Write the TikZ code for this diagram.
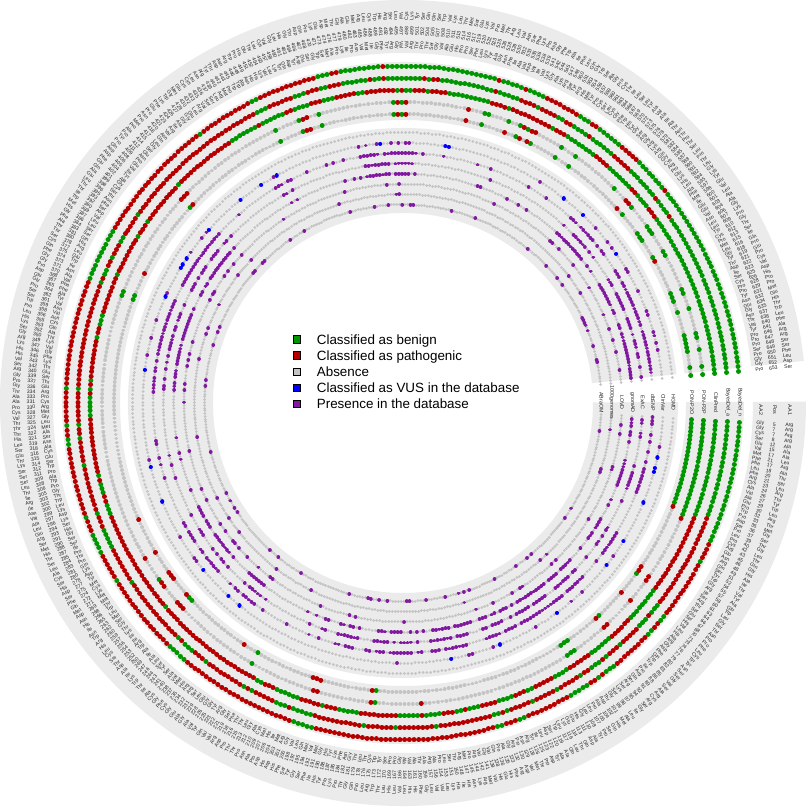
\documentclass[tikz,border=0pt]{standalone}
\usepackage{fontspec}
\setmainfont{Liberation Sans}
\definecolor{bandbg}{RGB}{235,235,235}
\definecolor{absgrey}{RGB}{196,196,196}
\definecolor{benign}{RGB}{0,150,0}
\definecolor{patho}{RGB}{182,0,0}
\definecolor{vus}{RGB}{0,0,255}
\definecolor{presence}{RGB}{128,24,160}
\definecolor{lbltext}{RGB}{35,35,35}
\tikzset{
  entrytxt/.style={inner sep=0pt, font=\fontsize{5.1}{5.1}\selectfont, text=lbltext},
  tracklbl/.style={inner sep=0pt, font=\fontsize{5.3}{5.3}\selectfont, text=lbltext, rotate=-90},
  legbox/.style={draw=black, line width=0.8pt, minimum size=7.4pt, inner sep=0pt},
  legtxt/.style={inner sep=0pt, anchor=base west, font=\fontsize{13.4}{16}\selectfont},
  bigdot/.style={line cap=round, line width=5pt},
  smalldot/.style={line cap=round, line width=3.8pt},
  dbdotstyle/.style={line cap=round, line width=3.8pt},
  dbgrey/.style={line cap=round, line width=3pt},
  vusdot/.style={line cap=round, line width=4.2pt},
}
\newcommand\bandring[2]{\fill[bandbg] (6.0:#1) arc[start angle=6.0,end angle=360.2,radius=#1] -- (0.2:#2) arc[start angle=360.2,end angle=6.0,radius=#2] -- cycle;}
% lists of dot positions
\newcommand\initlist[1]{\expandafter\gdef\csname L@#1\endcsname{}}
\newcommand\addpt[3]{\expandafter\xdef\csname L@#1\endcsname{\csname L@#1\endcsname (#2:#3) -- ++(0.01,0)}}
\newcommand\drawlist[2]{\edef\tmpdraw{\noexpand\draw[#2] \csname L@#1\endcsname;}\tmpdraw}
% pred: state -1 absent, 0 benign, 1 pathogenic
\newcommand\predpt[3]{\ifdim#3pt<-0.5pt \addpt{#1a}{\ang}{#2}\else\ifdim#3pt>0.5pt \addpt{#1r}{\ang}{#2}\else\addpt{#1g}{\ang}{#2}\fi\fi}
% db: 0 absent, 1 presence, 2 vus
\newcommand\dbpt[3]{\ifdim#3pt>1.5pt \addpt{#1v}{\ang}{#2}\else\ifdim#3pt>0.5pt \addpt{#1p}{\ang}{#2}\else\addpt{#1a}{\ang}{#2}\fi\fi}
\newcommand\firstA[1]{\ifcase#1\relax Arg\or Arg\or Arg\or Arg\or Ala\or Ala\or Ala\or Leu\fi}
\newcommand\firstP[1]{\ifcase#1\relax 5\or 7\or 7\or 8\or 12\or 15\or 17\or 21\fi}
\newcommand\firstB[1]{\ifcase#1\relax Gly\or Gly\or Cys\or Ser\or Glu\or Val\or Met\or Phe\fi}
\newcommand\lastA[1]{\ifcase#1\relax Arg\or Arg\or Ser\or Ser\or Phe\or Leu\or Asp\or Ser\fi}
\newcommand\lastP[1]{\ifcase#1\relax 646\or 647\or 648\or 649\or 650\or 651\or 652\or 653\fi}
\newcommand\lastB[1]{\ifcase#1\relax Pro\or Pro\or Pro\or Ser\or Pro\or Gly\or Gly\or Pro\fi}
\begin{document}
\begin{tikzpicture}[x=1pt,y=1pt]
\useasboundingbox (-403,-406) rectangle (406,403);
\bandring{403}{350}
\bandring{341}{283}
\bandring{275}{190}
\foreach \t in {A,B,C,D,F}{\initlist{\t a}\initlist{\t g}\initlist{\t r}}
\foreach \t in {H,V,S,E,G,L,T,R}{\initlist{\t a}\initlist{\t p}\initlist{\t v}}
\pgfmathsetseed{777}
\pgfmathdeclarerandomlist{aalist}{{Ala}{Arg}{Asn}{Asp}{Cys}{Gln}{Glu}{Gly}{His}{Ile}{Leu}{Lys}{Met}{Phe}{Pro}{Ser}{Thr}{Trp}{Tyr}{Val}{Pro}{Ser}{Ala}{Leu}{Gly}{Arg}{Thr}{Val}}
\xdef\stA{0}\xdef\stB{0}\xdef\stC{0}\xdef\stP{1}\xdef\stD{1}
\foreach \i in {0,...,439}{
  \pgfmathsetmacro\ang{-3.3-0.8002*\i}
  \pgfmathsetmacro\pp{\i<22 ? 0 : (\i<110 ? 0.6 : (\i<220 ? 0.78 : (\i<300 ? 0.72 : (\i<345 ? 0.4 : (\i<400 ? 0.32 : (\i<422 ? 0.12 : 0))))))}
  \pgfmathsetmacro\qq{\i<22 ? 1 : (\i<360 ? 0.13 : (\i<422 ? 0.3 : 0.7))}
  \pgfmathsetmacro\nA{rnd<0.55 ? \stA : (rnd<\pp ? 1 : 0)}
  \pgfmathsetmacro\nB{rnd<0.5 ? \nA : (rnd<0.5 ? \stB : (rnd<\pp ? 1 : 0))}
  \pgfmathsetmacro\nC{rnd<0.55 ? \stC : (rnd<\pp ? 1 : 0)}
  \pgfmathsetmacro\nP{\i<22 ? 1 : (rnd<0.45 ? \stP : (rnd<\qq ? 1 : 0))}
  \pgfmathsetmacro\cP{rnd<\pp ? 1 : 0}
  \pgfmathsetmacro\vD{(\nP>0.5 && (\i<22 || rnd<0.92)) ? \cP : -1}
  \pgfmathsetmacro\vF{(\nP>0.5 && (\i<22 || rnd<0.9)) ? ((\i<22 || rnd<0.88) ? \cP : 1-\cP) : -1}
  \pgfmathsetmacro\nD{rnd<0.82 ? \stD : (rnd<0.55 ? 1 : 0)}
  \pgfmathsetmacro\vS{rnd<(0.15+0.75*\nD) ? 1 : 0}
  \pgfmathsetmacro\vG{rnd<(0.1+0.75*\nD) ? 1 : 0}
  \pgfmathsetmacro\vE{rnd<(0.08+0.62*\nD) ? 1 : 0}
  \pgfmathsetmacro\vL{rnd<(0.05+0.15*\nD) ? 1 : 0}
  \pgfmathsetmacro\vT{rnd<(0.03+0.08*\nD) ? 1 : 0}
  \pgfmathsetmacro\vR{rnd<(0.04+0.1*\nD) ? 1 : 0}
  \pgfmathsetmacro\vC{rnd<0.07 ? 2 : (rnd<(0.02+0.15*\nD) ? 1 : 0)}
  \predpt{A}{337}{\nA}
  \predpt{B}{325}{\nB}
  \predpt{C}{313}{\nC}
  \predpt{D}{301}{\vD}
  \predpt{F}{289}{\vF}
  \dbpt{H}{270.5}{0}
  \dbpt{V}{260.2}{\vC}
  \dbpt{S}{249.9}{\vS}
  \dbpt{E}{239.6}{\vE}
  \dbpt{G}{229.3}{\vG}
  \dbpt{L}{219}{\vL}
  \dbpt{T}{208.7}{\vT}
  \dbpt{R}{198.4}{\vR}
  \pgfmathsetmacro\rot{(\ang<-90 && \ang>-270) ? \ang+180 : \ang}
  \pgfmathtruncatemacro\pos{5.5+1.476082*\i}
  \pgfmathrandomitem{\aaA}{aalist}
  \pgfmathrandomitem{\aaB}{aalist}
  \node[entrytxt, rotate=\rot] at (\ang:387) {\ifnum\i<8 \firstA{\i}\else\ifnum\i>431 \lastA{\numexpr\i-432\relax}\else\aaA\fi\fi};
  \node[entrytxt, rotate=\rot] at (\ang:372) {\ifnum\i<8 \firstP{\i}\else\ifnum\i>431 \lastP{\numexpr\i-432\relax}\else\pos\fi\fi};
  \node[entrytxt, rotate=\rot] at (\ang:358) {\ifnum\i<8 \firstB{\i}\else\ifnum\i>431 \lastB{\numexpr\i-432\relax}\else\aaB\fi\fi};
  \xdef\stA{\nA}\xdef\stB{\nB}\xdef\stC{\nC}\xdef\stP{\nP}\xdef\stD{\nD}
}
% draw the dot tracks
\foreach \t in {A,B,C,D,F}{
  \drawlist{\t a}{absgrey, smalldot}
  \drawlist{\t g}{benign, bigdot}
  \drawlist{\t r}{patho, bigdot}
}
\foreach \t in {H,V,S,E,G,L,T,R}{
  \drawlist{\t a}{absgrey, dbgrey}
  \drawlist{\t p}{presence, dbdotstyle}
  \drawlist{\t v}{vus, vusdot}
}
% track names in the gap
\node[tracklbl] (h-aa1) at (387,-7) {AA1};
\node[tracklbl] (h-pos) at (372,-7) {Pos};
\node[tracklbl] (h-aa2) at (358,-7) {AA2};
\node[tracklbl] (t-bdn) at (337,0.5) {BayesDel\_n};
\node[tracklbl] (t-bda) at (325,0.5) {BayesDel\_a};
\node[tracklbl] (t-cp) at (313,0.5) {ClinPred};
\node[tracklbl] (t-pp) at (301,0.5) {PON-P2P};
\node[tracklbl] (t-po) at (289,0.5) {PON-P2O};
\node[tracklbl] (t-hgmd) at (270.5,0.5) {HGMD};
\node[tracklbl] (t-clinvar) at (260.2,0.5) {ClinVar};
\node[tracklbl] (t-dbsnp) at (249.9,0.5) {dbSNP};
\node[tracklbl] (t-exac) at (239.6,0.5) {ExAC};
\node[tracklbl] (t-gnomad) at (229.3,0.5) {gnomAD};
\node[tracklbl] (t-lovd) at (219,0.5) {LOVD};
\node[tracklbl] (t-1000g) at (208.7,0.5) {1000genomes};
\node[tracklbl] (t-abraom) at (198.4,0.5) {ABraOM};
% legend
\node[legbox, fill=benign] (lb1) at (-106,63.7) {};
\node[legbox, fill=patho] (lb2) at (-106,47.5) {};
\node[legbox, fill=absgrey] (lb3) at (-106,31.3) {};
\node[legbox, fill=vus] (lb4) at (-106,15.1) {};
\node[legbox, fill=presence] (lb5) at (-106,-1.1) {};
\node[legtxt] (lt1) at (-86.3,58.9) {Classified as benign};
\node[legtxt] (lt2) at (-86.3,42.7) {Classified as pathogenic};
\node[legtxt] (lt3) at (-86.3,26.5) {Absence};
\node[legtxt] (lt4) at (-86.3,10.3) {Classified as VUS in the database};
\node[legtxt] (lt5) at (-86.3,-5.9) {Presence in the database};
\end{tikzpicture}
\end{document}
